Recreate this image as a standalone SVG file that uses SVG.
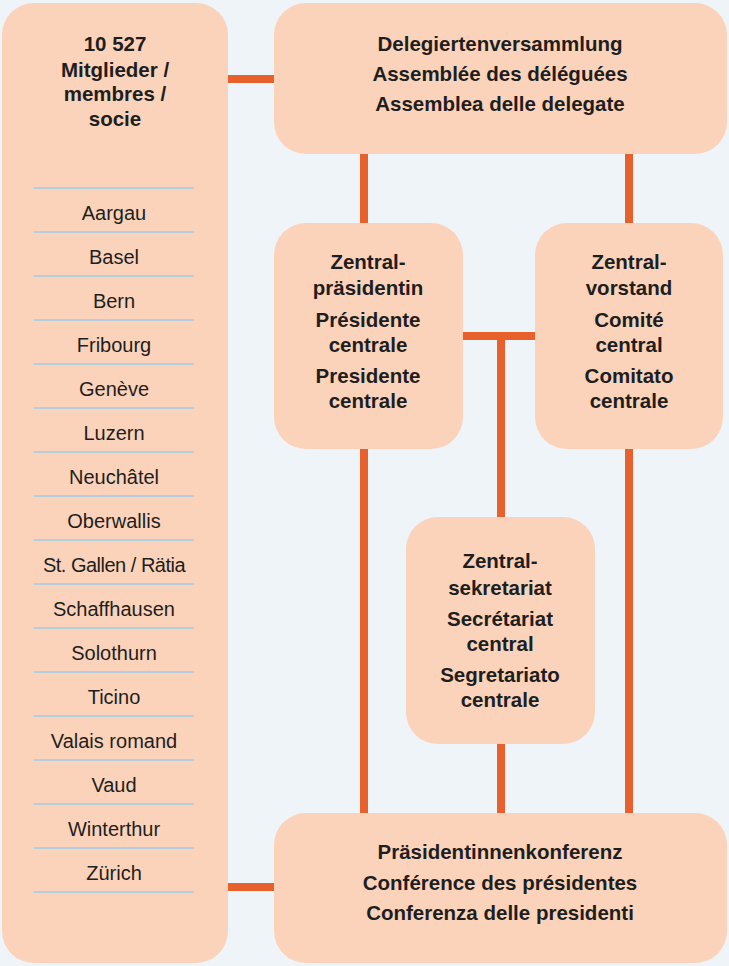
<svg xmlns="http://www.w3.org/2000/svg" width="729" height="966" viewBox="0 0 729 966">
<style>
.node{fill:#FBD3BA}
.b{font-family:"Liberation Sans",Arial,Helvetica,sans-serif;font-weight:bold;font-size:20.5px;fill:#1E1E1E;text-anchor:middle}
.r{font-family:"Liberation Sans",Arial,Helvetica,sans-serif;font-size:20px;fill:#1E1E1E;text-anchor:middle}
.div{stroke:#B3CEDF;stroke-width:2.2}
.con{fill:#E8612C}
</style>
<rect width="729" height="966" fill="#EFF4F9"/>
<g id="connectors">
<rect class="con" x="228" y="75" width="46" height="8"/>
<rect class="con" x="228" y="883" width="46" height="8"/>
<rect class="con" x="360" y="154" width="8" height="69"/>
<rect class="con" x="625" y="154" width="8" height="69"/>
<rect class="con" x="463" y="332" width="72" height="8"/>
<rect class="con" x="497" y="340" width="8" height="177"/>
<rect class="con" x="497" y="744" width="8" height="69"/>
<rect class="con" x="360" y="449" width="8" height="364"/>
<rect class="con" x="625" y="449" width="8" height="364"/>
</g>
<g id="members">
<rect class="node" x="2" y="3" width="226" height="960" rx="32"/>
<text class="b" x="115" y="51">10 527</text>
<text class="b" x="115" y="77">Mitglieder /</text>
<text class="b" x="115" y="101">membres /</text>
<text class="b" x="115" y="126">socie</text>
<g class="div">
<line x1="34" y1="188" x2="194" y2="188"/>
<line x1="34" y1="232" x2="194" y2="232"/>
<line x1="34" y1="276" x2="194" y2="276"/>
<line x1="34" y1="320" x2="194" y2="320"/>
<line x1="34" y1="364" x2="194" y2="364"/>
<line x1="34" y1="408" x2="194" y2="408"/>
<line x1="34" y1="452" x2="194" y2="452"/>
<line x1="34" y1="496" x2="194" y2="496"/>
<line x1="34" y1="540" x2="194" y2="540"/>
<line x1="34" y1="584" x2="194" y2="584"/>
<line x1="34" y1="628" x2="194" y2="628"/>
<line x1="34" y1="672" x2="194" y2="672"/>
<line x1="34" y1="716" x2="194" y2="716"/>
<line x1="34" y1="760" x2="194" y2="760"/>
<line x1="34" y1="804" x2="194" y2="804"/>
<line x1="34" y1="848" x2="194" y2="848"/>
<line x1="34" y1="892" x2="194" y2="892"/>
</g>
<text class="r" x="114" y="220">Aargau</text>
<text class="r" x="114" y="264">Basel</text>
<text class="r" x="114" y="308">Bern</text>
<text class="r" x="114" y="352">Fribourg</text>
<text class="r" x="114" y="396">Genève</text>
<text class="r" x="114" y="440">Luzern</text>
<text class="r" x="114" y="484">Neuchâtel</text>
<text class="r" x="114" y="528">Oberwallis</text>
<text class="r" x="114" y="572" letter-spacing="-0.5">St. Gallen / Rätia</text>
<text class="r" x="114" y="616">Schaffhausen</text>
<text class="r" x="114" y="660">Solothurn</text>
<text class="r" x="114" y="704">Ticino</text>
<text class="r" x="114" y="748">Valais romand</text>
<text class="r" x="114" y="792">Vaud</text>
<text class="r" x="114" y="836">Winterthur</text>
<text class="r" x="114" y="880">Zürich</text>
</g>
<g id="delegates">
<rect class="node" x="274" y="3" width="453" height="151" rx="32"/>
<text class="b" x="500" y="51">Delegiertenversammlung</text>
<text class="b" x="500" y="81">Assemblée des déléguées</text>
<text class="b" x="500" y="111">Assemblea delle delegate</text>
</g>
<g id="president">
<rect class="node" x="274" y="223" width="189" height="226" rx="32"/>
<text class="b" x="368" y="269">Zentral-</text>
<text class="b" x="368" y="295">präsidentin</text>
<text class="b" x="368" y="327">Présidente</text>
<text class="b" x="368" y="352">centrale</text>
<text class="b" x="368" y="383">Presidente</text>
<text class="b" x="368" y="408">centrale</text>
</g>
<g id="board">
<rect class="node" x="535" y="223" width="188" height="226" rx="32"/>
<text class="b" x="629" y="269">Zentral-</text>
<text class="b" x="629" y="295">vorstand</text>
<text class="b" x="629" y="327">Comité</text>
<text class="b" x="629" y="352">central</text>
<text class="b" x="629" y="383">Comitato</text>
<text class="b" x="629" y="408">centrale</text>
</g>
<g id="secretariat">
<rect class="node" x="406" y="517" width="189" height="227" rx="32"/>
<text class="b" x="500" y="568">Zentral-</text>
<text class="b" x="500" y="595">sekretariat</text>
<text class="b" x="500" y="626">Secrétariat</text>
<text class="b" x="500" y="651">central</text>
<text class="b" x="500" y="682">Segretariato</text>
<text class="b" x="500" y="707">centrale</text>
</g>
<g id="conference">
<rect class="node" x="274" y="813" width="453" height="150" rx="32"/>
<text class="b" x="500" y="859">Präsidentinnenkonferenz</text>
<text class="b" x="500" y="890">Conférence des présidentes</text>
<text class="b" x="500" y="920">Conferenza delle presidenti</text>
</g>
</svg>
